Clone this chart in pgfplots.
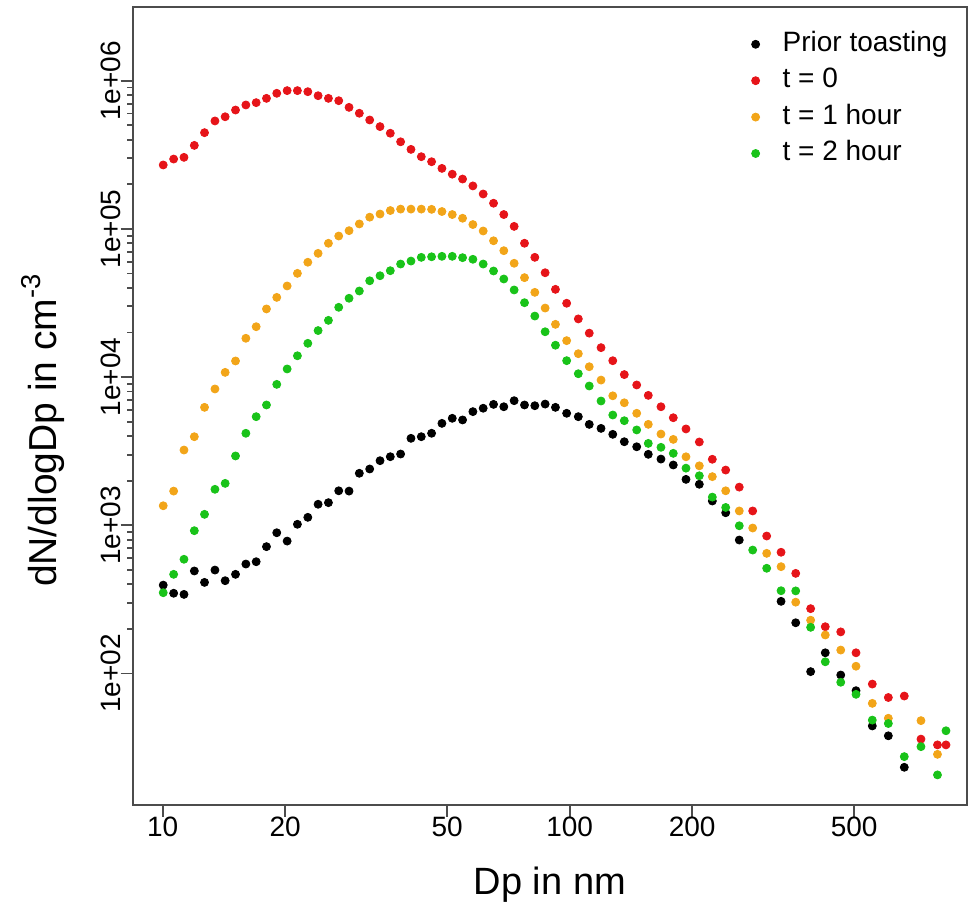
\documentclass[border=0pt]{standalone}
\usepackage{fontspec}
\setmainfont{Liberation Sans}
\usepackage{pgfplots}
\usepackage{pgfplotstable}
\pgfplotsset{compat=1.18}

\definecolor{ptblack}{RGB}{0,0,0}
\definecolor{ptred}{RGB}{230,20,25}
\definecolor{ptorange}{RGB}{242,165,25}
\definecolor{ptgreen}{RGB}{25,195,25}

% particle size distributions, dN/dlogDp in cm^-3
\pgfplotstableread{
d      black  red     orange  green
10.03  395    2.70e5  1355    351
10.64  348    2.96e5  1702    467
11.28  342    3.04e5  3221    590
11.96  492    3.66e5  3963    920
12.67  412    4.46e5  6252    1186
13.44  499    5.35e5  8318    1750
14.24  423    5.71e5  10765   1919
15.10  467    6.34e5  12850   2938
16.01  548    6.86e5  18280   4178
16.97  568    7.11e5  21880   5408
17.99  718    7.60e5  28840   6486
19.07  891    8.22e5  34510   8933
20.22  783    8.57e5  41210   11350
21.43  1016   8.57e5  50120   13930
22.73  1132   8.43e5  59570   16900
24.09  1387   7.92e5  68390   20610
25.54  1422   7.60e5  79980   24150
27.07  1710   7.33e5  89530   29580
28.70  1702   6.61e5  97270   34040
30.42  2244   6.03e5  1.08e5  38110
32.26  2399   5.43e5  1.20e5  44670
34.20  2729   4.90e5  1.26e5  48310
36.25  2904   4.42e5  1.33e5  52240
38.43  3027   3.87e5  1.36e5  57940
40.74  3864   3.44e5  1.36e5  60670
43.19  3963   3.07e5  1.36e5  64270
45.78  4178   2.84e5  1.355e5 64860
48.54  4875   2.56e5  1.31e5  65310
51.46  5272   2.34e5  1.25e5  65310
54.55  5140   2.17e5  1.18e5  63970
57.83  5848   1.95e5  1.07e5  62370
61.30  6166   1.72e5  96830   57940
65.00  6546   1.49e5  83180   52000
68.89  6310   1.25e5  71290   45920
73.04  6934   1.04e5  58620   38730
77.45  6486   8.00e4  46880   31770
82.10  6412   6.43e4  37320   25820
87.03  6577   5.06e4  29240   20230
92.26  6252   3.91e4  22700   16410
98.3   5700   3.15e4  17620   12910
105.0  5408   2.47e4  14390   10540
111.7  4797   1.98e4  11750   8710
119.4  4508   1.58e4  9550    6900
127.6  4111   1.29e4  7480    5550
136.2  3664   1.04e4  6710    5080
146.1  3388   8850    5700    4400
156.0  3013   7530    4800    3570
167.6  2799   6310    4130    3360
179.7  2553   5320    3800    3060
193.1  2042   4470    2900    2430
208.2  1892   3650    2520    2160
224.1  1459   2790    2130    1550
241.7  1216   2360    1710    1320
261.0  796    1810    1250    993
281.6  nan    1250    959     681
304.8  nan    847     647     513
330.6  307    658     526     362
359.2  220    474     303     361
390.9  103    274     229     205
424.6  138    207     182     120
463.4  97.7   191     144     87.3
505.2  76.6   138     112     72.4
554.0  44.3   84.9    62.9    48.5
606.6  38.0   68.9    49.9    46.0
663.9  23.3   70.5    nan     27.5
729.6  nan    36.1    48.1    32.1
801.0  nan    33.0    28.5    20.7
840.5  nan    33.0    nan     41.1
}\psd

\begin{document}
\begin{tikzpicture}
\begin{axis}[
    name=main,
    xmode=log, ymode=log,
    scale only axis,
    width=417.15pt, height=398.85pt,
    xmin=8.44, xmax=946.6,
    ymin=12.97, ymax=3.128e6,
    axis line style={black!70, line width=0.9pt},
    tick style={black!70, line width=0.9pt},
    tick align=outside,
    major tick length=6pt,
    xtick pos=bottom, ytick pos=left,
    minor tick num=0,
    xtick={10,20,50,100,200,500},
    xticklabels={10,20,50,100,200,500},
    ytick={1e2,1e3,1e4,1e5,1e6},
    yticklabels={1e+02,1e+03,1e+04,1e+05,1e+06},
    xticklabel style={font=\fontsize{14}{16}\selectfont, inner sep=0pt, anchor=north},
    yticklabel style={font=\fontsize{14}{16}\selectfont, inner sep=0pt, rotate=90, anchor=south},
    xlabel={Dp in nm},
    ylabel={dN/dlogDp in cm\textsuperscript{-3}},
    every axis x label/.style={at={(axis description cs:0.5,-0.1003)}, anchor=center, font=\fontsize{19}{22}\selectfont},
    every axis y label/.style={at={(axis description cs:-0.1075,0.47)}, rotate=90, anchor=center, font=\fontsize{19.5}{22}\selectfont},
    legend style={draw=none, fill=none, inner sep=0pt,
        at={(rel axis cs:1,1)}, anchor=north east, xshift=-9.5pt, yshift=-11.8pt,
        font=\fontsize{14}{16}\selectfont, row sep=5.2pt, column sep=11.5pt,
        nodes={inner sep=0pt, text height=10pt, text depth=3pt}},
    legend image code/.code={\draw[#1, mark size=2pt] plot coordinates {(0cm,0cm)};},
    legend cell align=left,
    clip=false,
]
\addplot[only marks, mark=*, mark size=2pt, color=ptblack] table[x=d, y=black] {\psd};
\addplot[only marks, mark=*, mark size=2pt, color=ptred] table[x=d, y=red] {\psd};
\addplot[only marks, mark=*, mark size=2pt, color=ptorange] table[x=d, y=orange] {\psd};
\addplot[only marks, mark=*, mark size=2pt, color=ptgreen] table[x=d, y=green] {\psd};
\legend{Prior toasting, t = 0, t = 1 hour, t = 2 hour}
\end{axis}
\pgfresetboundingbox
\useasboundingbox (main.south west) ++(-66.35pt,-52.5pt) rectangle ++(484.5pt,455pt);
\end{tikzpicture}
\end{document}
